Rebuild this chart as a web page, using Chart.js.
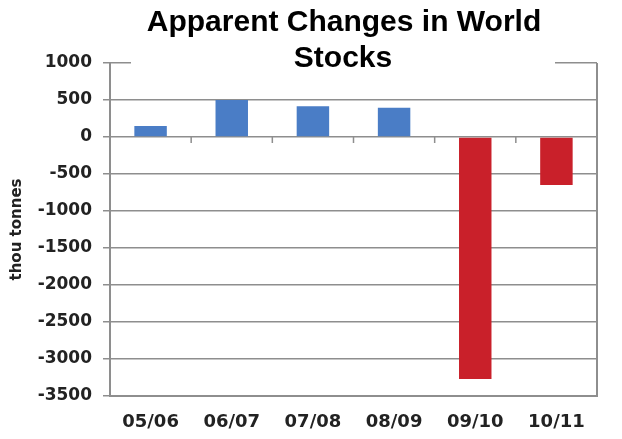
<!DOCTYPE html>
<html>
<head>
<meta charset="utf-8">
<script src="https://cdn.jsdelivr.net/npm/chart.js@4"></script>
<style>
  html, body { margin: 0; padding: 0; background: #fff; }
  #wrap { width: 622px; height: 439px; }
</style>
</head>
<body>
<div id="wrap"><canvas id="stocksChart" width="622" height="439"></canvas></div>
<script>
// data
const seasons = ['05/06', '06/07', '07/08', '08/09', '09/10', '10/11'];
const stockChange = [150, 500, 415, 395, -3270, -650];
const titleLines = ['Apparent Changes in World', 'Stocks'];

const BLUE = '#4a7dc6';
const RED = '#c9202a';
const GRID = '#8e8e8e';
const TITLE_FONT = '"Liberation Sans", Arial, sans-serif';
const TICK_FONT = '"DejaVu Sans", sans-serif';

// bars above zero blue, below zero red
const barColors = stockChange.map(v => v >= 0 ? BLUE : RED);

// right edge of plot box + small ticks on the zero line between categories
const frameAndZeroTicks = {
    id: 'frameAndZeroTicks',
    afterDatasetsDraw(chart) {
        const { ctx, chartArea, scales } = chart;
        ctx.save();
        ctx.strokeStyle = GRID;
        ctx.lineWidth = 2;
        ctx.beginPath();
        ctx.moveTo(chartArea.right, chartArea.top);
        ctx.lineTo(chartArea.right, chartArea.bottom);
        ctx.stroke();

        const y0 = scales.y.getPixelForValue(0);
        ctx.lineWidth = 1.5;
        ctx.beginPath();
        for (let i = 1; i < seasons.length; i++) {
            const x = (scales.x.getPixelForValue(i - 1) + scales.x.getPixelForValue(i)) / 2;
            ctx.moveTo(x, y0);
            ctx.lineTo(x, y0 + 6);
        }
        ctx.stroke();
        ctx.restore();
    }
};

// the title sits over the top of the plot area on a white box
const overlayTitle = {
    id: 'overlayTitle',
    afterDraw(chart) {
        const { ctx } = chart;
        ctx.save();
        ctx.fillStyle = '#fff';
        ctx.fillRect(131, 0, 424, 72);
        ctx.fillStyle = '#000';
        ctx.font = '900 30px ' + TITLE_FONT;
        ctx.textAlign = 'center';
        ctx.textBaseline = 'alphabetic';
        ctx.fillText(titleLines[0], 344, 31);
        ctx.fillText(titleLines[1], 343, 67);
        ctx.restore();
    }
};

new Chart(document.getElementById('stocksChart'), {
    type: 'bar',
    data: {
        labels: seasons,
        datasets: [{
            data: stockChange,
            backgroundColor: barColors,
            borderWidth: 0,
            barPercentage: 0.4,
            categoryPercentage: 1.0
        }]
    },
    options: {
        responsive: false,
        animation: false,
        layout: { padding: { top: 63, right: 25, left: 0, bottom: 0 } },
        plugins: {
            legend: { display: false },
            title: { display: false },
            tooltip: { enabled: false }
        },
        scales: {
            x: {
                afterFit(scale) { scale.height = 43; },
                grid: { display: false },
                border: { display: true, color: GRID, width: 2 },
                ticks: {
                    color: '#222',
                    padding: 8,
                    font: { family: TICK_FONT, size: 18, weight: 'bold' }
                }
            },
            y: {
                min: -3500,
                max: 1000,
                afterFit(scale) { scale.width = 110; },
                ticks: {
                    stepSize: 500,
                    color: '#222',
                    padding: 11,
                    callback: v => String(v),
                    font: { family: TICK_FONT, size: 17, weight: 'bold' }
                },
                grid: { color: GRID, lineWidth: 1.5, tickLength: 7 },
                border: { display: true, color: GRID, width: 2 },
                title: {
                    display: true,
                    text: 'thou tonnes',
                    color: '#222',
                    padding: { top: 8, bottom: 0 },
                    font: { family: TICK_FONT, size: 15, weight: 'bold' }
                }
            }
        }
    },
    plugins: [frameAndZeroTicks, overlayTitle]
});
</script>
</body>
</html>
